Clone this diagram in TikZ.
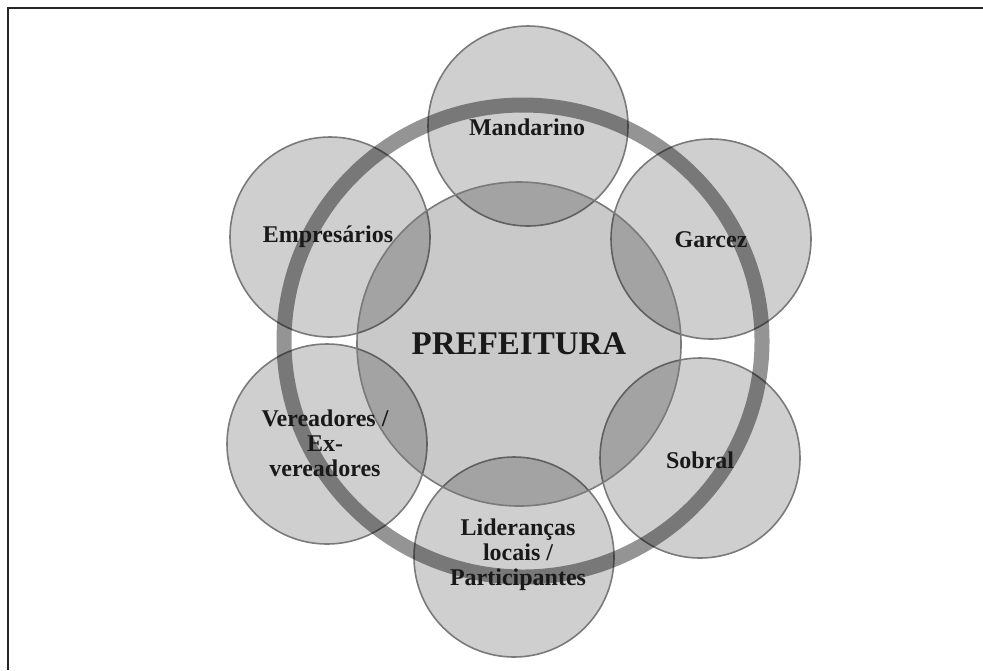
\documentclass[tikz,border=0pt]{standalone}
\usepackage{fontspec}
\setmainfont{Liberation Serif}
\begin{document}
\begin{tikzpicture}[x=0.5pt,y=-0.5pt,
  member/.style={circle,draw=black!52,line width=0.8pt,fill=black,fill opacity=0.19,
    text opacity=1,minimum size=100pt,inner sep=0pt},
  hub/.style={circle,draw=black!52,line width=0.8pt,fill=black,fill opacity=0.21,
    text opacity=1,minimum size=162pt,inner sep=0pt},
  lbl/.style={font=\fontsize{12}{12.5}\selectfont\bfseries,align=center,text=black!90},
  hublbl/.style={font=\fontsize{16.5}{18}\selectfont\bfseries,text=black!90}]
  \useasboundingbox (0,0) rectangle (983,670);
  % frame lines along the top and left edges
  \draw[line width=1pt,black!85] (983,8) -- (8,8) -- (8,670);
  % surrounding circles
  \node[member] (mand) at (528,126) {};
  \node[member] (garc) at (711,239) {};
  \node[member] (sobr) at (700,458) {};
  \node[member] (lide) at (514,557) {};
  \node[member] (vere) at (327,444) {};
  \node[member] (empr) at (330,237) {};
  % central circle
  \node[hub] (pref) at (519,344) {};
  % ring linking the members
  \draw[line width=7.5pt,black,opacity=0.42] (523,341) ellipse [x radius=239,y radius=236];
  % labels
  \node[hublbl] at (pref) {PREFEITURA};
  \node[lbl] at (527,127) {Mandarino};
  \node[lbl] at (711,240) {Garcez};
  \node[lbl] at (700,460) {Sobral};
  \node[lbl] at (518,555) {Lideranças\\locais /\\Participantes};
  \node[lbl] at (325,443) {Vereadores /\\Ex-\\vereadores};
  \node[lbl] at (328,237) {Empresários};
\end{tikzpicture}
\end{document}
